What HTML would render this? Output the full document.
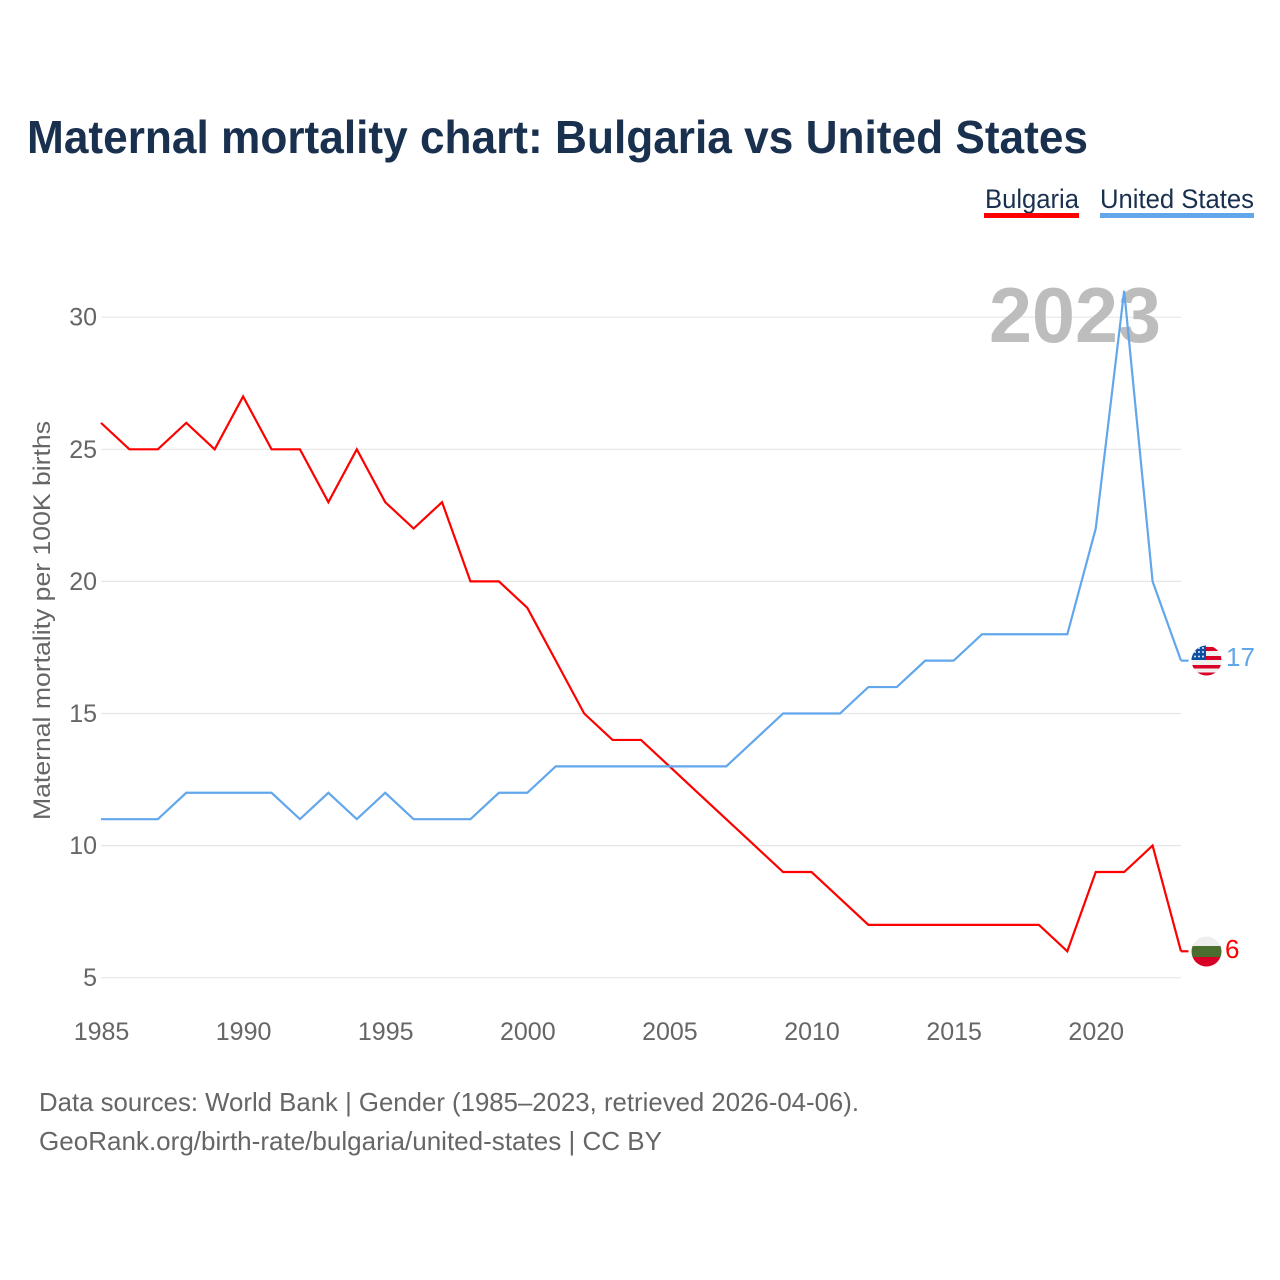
<!DOCTYPE html>
<html lang="en">
<head>
<meta charset="utf-8">
<title>Maternal mortality chart: Bulgaria vs United States</title>
<style>
html,body{margin:0;padding:0;background:#fff;width:1280px;height:1280px;overflow:hidden}
svg{display:block}
text{font-family:"Liberation Sans",sans-serif}
</style>
</head>
<body>
<svg id="chart" xmlns="http://www.w3.org/2000/svg" width="1280" height="1280" viewBox="0 0 1280 1280">
  <defs>
    <clipPath id="us-clip"><circle cx="1206.5" cy="660.5" r="15"/></clipPath>
    <clipPath id="bg-clip"><circle cx="1206.5" cy="951.5" r="15"/></clipPath>
  </defs>
  <rect x="0" y="0" width="1280" height="1280" fill="#fff"/>
  <text x="27" y="153" font-size="46" font-weight="700" fill="#19304f" textLength="1061" lengthAdjust="spacingAndGlyphs">Maternal mortality chart: Bulgaria vs United States</text>

  <g>
    <g>
      <text x="985" y="208" font-size="27" fill="#19304f" textLength="94" lengthAdjust="spacingAndGlyphs">Bulgaria</text>
      <rect x="984" y="213" width="95" height="5" fill="#ff0000"/>
    </g>
    <g>
      <text x="1100" y="208" font-size="27" fill="#19304f" textLength="154" lengthAdjust="spacingAndGlyphs">United States</text>
      <rect x="1100" y="213" width="154" height="5" fill="#62a6ec"/>
    </g>
  </g>

  <g id="grid"></g>
  <g id="y-labels"></g>
  <g id="x-labels"></g>

  <text x="989" y="342" font-size="78" font-weight="700" fill="#bdbdbd" textLength="172" lengthAdjust="spacingAndGlyphs">2023</text>

  <text transform="translate(50,820) rotate(-90)" x="0" y="0" font-size="24.5" fill="#666" textLength="399" lengthAdjust="spacingAndGlyphs">Maternal mortality per 100K births</text>

  <g id="series"></g>

  <g clip-path="url(#us-clip)">
    <rect x="1190" y="645" width="33" height="32" fill="#f0f0f0"/>
    <rect x="1190" y="647" width="33" height="4" fill="#d80027"/>
    <rect x="1190" y="656" width="33" height="4" fill="#d80027"/>
    <rect x="1190" y="665" width="33" height="3.5" fill="#d80027"/>
    <rect x="1190" y="672.5" width="33" height="4" fill="#d80027"/>
    <rect x="1190" y="645" width="16" height="15" fill="#0b4ea2"/>
    <g fill="#e8eef8">
      <circle cx="1203" cy="648" r="1"/><circle cx="1199" cy="648" r="1"/>
      <circle cx="1203" cy="652" r="1"/><circle cx="1199" cy="652" r="1"/><circle cx="1195" cy="652" r="1"/>
      <circle cx="1203" cy="656.5" r="1"/><circle cx="1199" cy="656.5" r="1"/><circle cx="1195" cy="656.5" r="1"/>
    </g>
  </g>
  <text id="label-us" x="1226" y="666" font-size="26" fill="#62a6ec"></text>

  <g clip-path="url(#bg-clip)">
    <rect x="1190" y="936" width="33" height="10" fill="#eeeeee"/>
    <rect x="1190" y="946" width="33" height="11" fill="#496e2d"/>
    <rect x="1190" y="957" width="33" height="11" fill="#d80027"/>
  </g>
  <text id="label-bg" x="1225" y="958" font-size="26" fill="#ff0000"></text>

  <text x="39" y="1111" font-size="26" fill="#666" textLength="820" lengthAdjust="spacingAndGlyphs">Data sources: World Bank | Gender (1985–2023, retrieved 2026-04-06).</text>
  <text x="39" y="1150" font-size="26" fill="#666" textLength="623" lengthAdjust="spacingAndGlyphs">GeoRank.org/birth-rate/bulgaria/united-states | CC BY</text>
</svg>
<script>
const years = [1985,1986,1987,1988,1989,1990,1991,1992,1993,1994,1995,1996,1997,1998,1999,2000,2001,2002,2003,2004,2005,2006,2007,2008,2009,2010,2011,2012,2013,2014,2015,2016,2017,2018,2019,2020,2021,2022,2023];
const bulgaria = [26,25,25,26,25,27,25,25,23,25,23,22,23,20,20,19,17,15,14,14,13,12,11,10,9,9,8,7,7,7,7,7,7,7,6,9,9,10,6];
const unitedStates = [11,11,11,12,12,12,12,11,12,11,12,11,11,11,12,12,13,13,13,13,13,13,13,14,15,15,15,16,16,17,17,18,18,18,18,22,31,20,17];
const yTicks = [5,10,15,20,25,30];
const xTicks = [1985,1990,1995,2000,2005,2010,2015,2020];

const NS = 'http://www.w3.org/2000/svg';
function xScale(year){ return 101 + (year - 1985) * (1181 - 101) / (2023 - 1985); }
function yScale(v){ return 977.7 + (v - 5) * (317.2 - 977.7) / (30 - 5); }

const grid = document.getElementById('grid');
const yLabels = document.getElementById('y-labels');
const xLabels = document.getElementById('x-labels');
const seriesGroup = document.getElementById('series');

yTicks.forEach(function(t){
  const line = document.createElementNS(NS, 'line');
  
  
  line.setAttribute('x1', 101);
  line.setAttribute('x2', 1181);
  line.setAttribute('y1', yScale(t));
  line.setAttribute('y2', yScale(t));
  line.setAttribute('stroke', '#e6e6e6');
  line.setAttribute('stroke-width', '1.2');
  grid.appendChild(line);

  const label = document.createElementNS(NS, 'text');
  
  
  label.setAttribute('x', 97);
  label.setAttribute('y', yScale(t) + 8.5);
  label.setAttribute('text-anchor', 'end');
  label.setAttribute('font-size', '25');
  label.setAttribute('fill', '#666');
  label.textContent = t;
  yLabels.appendChild(label);
});

xTicks.forEach(function(t){
  const label = document.createElementNS(NS, 'text');
  
  
  label.setAttribute('x', xScale(t) + 0.5);
  label.setAttribute('y', 1040);
  label.setAttribute('text-anchor', 'middle');
  label.setAttribute('font-size', '25');
  label.setAttribute('fill', '#666');
  label.textContent = t;
  xLabels.appendChild(label);
});

function drawLine(values, color, name){
  const path = document.createElementNS(NS, 'path');
  
  
  path.setAttribute('d', values.map(function(v, i){
    return (i ? 'L' : 'M') + xScale(years[i]).toFixed(2) + ' ' + yScale(v).toFixed(2);
  }).join(' '));
  path.setAttribute('fill', 'none');
  path.setAttribute('stroke', color);
  path.setAttribute('stroke-width', '2.2');
  path.setAttribute('stroke-linejoin', 'miter');
  seriesGroup.appendChild(path);

  const last = values[values.length - 1];
  const tail = document.createElementNS(NS, 'line');
  
  
  tail.setAttribute('x1', xScale(years[years.length - 1]));
  tail.setAttribute('x2', xScale(years[years.length - 1]) + 7.5);
  tail.setAttribute('y1', yScale(last));
  tail.setAttribute('y2', yScale(last));
  tail.setAttribute('stroke', color);
  tail.setAttribute('stroke-width', '2.2');
  seriesGroup.appendChild(tail);
}

drawLine(bulgaria, '#ff0000', 'line-bulgaria');
drawLine(unitedStates, '#62a6ec', 'line-united-states');

document.getElementById('label-us').textContent = unitedStates[unitedStates.length - 1];
document.getElementById('label-bg').textContent = bulgaria[bulgaria.length - 1];
</script>
</body>
</html>
